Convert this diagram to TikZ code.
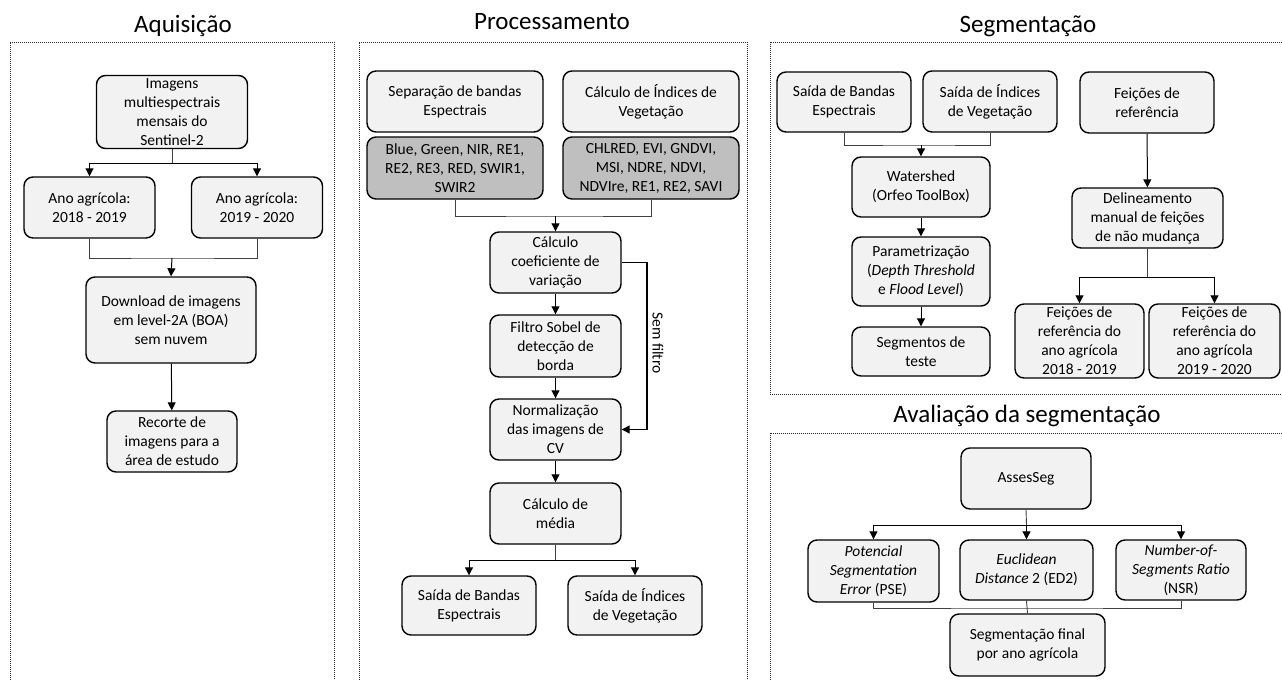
\documentclass[tikz,border=0pt]{standalone}
\usepackage{fontspec}
\setmainfont{Carlito}
\usetikzlibrary{arrows.meta}

\definecolor{boxgray}{HTML}{F2F2F2}
\definecolor{bandgray}{HTML}{BFBFBF}
\definecolor{linkgray}{HTML}{404040}

\tikzset{
  proc/.style={draw, rounded corners=9pt, line width=1.4pt, fill=boxgray,
    align=center, inner sep=1pt, font=\fontsize{15.5}{19}\selectfont},
  band/.style={proc, fill=bandgray},
  link/.style={draw=linkgray, line width=0.9pt},
  arr/.style={draw=black, line width=1pt, -{Triangle[width=8pt,length=8pt]}},
  panel/.style={draw=black!85, densely dotted, line width=1pt},
  paneltitle/.style={anchor=base, font=\fontsize{25}{29}\selectfont},
}

\begin{document}
\begin{tikzpicture}[x=1pt, y=-1pt]
  \useasboundingbox (0,0) rectangle (1282,680);

  % Panels
  \draw[panel] (10,680) -- (10,42) -- (334,42) -- (334,680);
  \draw[panel] (359,680) -- (359,42) -- (747,42) -- (747,680);
  \draw[panel] (1282,42) -- (770,42) -- (770,394) -- (1282,394);
  \draw[panel] (1282,433) -- (770,433) -- (770,680);

  \node[paneltitle] (tacq)  at (183,32)  {Aquisição};
  \node[paneltitle] (tproc) at (552,29)  {Processamento};
  \node[paneltitle] (tseg)  at (1028,32) {Segmentação};
  \node[paneltitle] (taval) at (1027,422) {Avaliação da segmentação};

  % Aquisicao
  \node[proc, minimum width=151, minimum height=73] (img) at (172,112)
    {Imagens\\multiespectrais\\mensais do\\Sentinel-2};
  \node[proc, minimum width=131, minimum height=61] (ano1) at (89.5,207.5)
    {Ano agrícola:\\2018 - 2019};
  \node[proc, minimum width=131, minimum height=61] (ano2) at (257,207.5)
    {Ano agrícola:\\2019 - 2020};
  \node[proc, minimum width=170, minimum height=86] (down) at (171,320)
    {Download de imagens\\em level-2A (BOA)\\sem nuvem};
  \node[proc, minimum width=130, minimum height=61] (rec) at (172,441.5)
    {Recorte de\\imagens para a\\área de estudo};

  \coordinate (s1) at (172,163);
  \coordinate (j1) at (172,258);
  \draw[link] (img.south) -- (s1);
  \draw[arr] (s1) -| (ano1.north);
  \draw[arr] (s1) -| (ano2.north);
  \draw[link] (ano1.south) |- (j1) -| (ano2.south);
  \draw[arr] (j1) -- (down.north);
  \draw[arr] (down) -- (rec);

  % Processamento
  \node[proc, minimum width=176, minimum height=61] (sep) at (455,101.5)
    {Separação de bandas\\Espectrais};
  \node[band, minimum width=176, minimum height=62] (bands) at (455,168)
    {Blue, Green, NIR, RE1,\\RE2, RE3, RED, SWIR1,\\SWIR2};
  \node[proc, minimum width=176, minimum height=61] (ind) at (651,101.5)
    {Cálculo de Índices de\\Vegetação};
  \node[band, minimum width=176, minimum height=62] (indl) at (651,168)
    {CHLRED, EVI, GNDVI,\\MSI, NDRE, NDVI,\\NDVIre, RE1, RE2, SAVI};
  \node[proc, minimum width=131, minimum height=61] (coef) at (555.5,262.5)
    {Cálculo\\coeficiente de\\variação};
  \node[proc, minimum width=131, minimum height=62] (sobel) at (555.5,346)
    {Filtro Sobel de\\detecção de\\borda};
  \node[proc, minimum width=131, minimum height=61] (norm) at (555.5,429.5)
    {Normalização\\das imagens de\\CV};
  \node[proc, minimum width=131, minimum height=61] (media) at (555.5,513.5)
    {Cálculo de\\média};
  \node[proc, minimum width=134, minimum height=59] (outb) at (469,605.5)
    {Saída de Bandas\\Espectrais};
  \node[proc, minimum width=134, minimum height=59] (outi) at (635,605.5)
    {Saída de Índices\\de Vegetação};

  \coordinate (j2) at (555.5,216);
  \coordinate (s2) at (555.5,560);
  \coordinate (sf) at (647,350);
  \draw[link] (bands.south) |- (j2) -| (indl.south);
  \draw[arr] (j2) -- (coef.north);
  \draw[arr] (coef) -- (sobel);
  \draw[arr] (sobel) -- (norm);
  \draw[arr] (norm) -- (media);
  \draw[link] (media.south) -- (s2);
  \draw[arr] (s2) -| (outb.north);
  \draw[arr] (s2) -| (outi.north);
  \draw[arr, line width=1.2pt] (coef.east) -| (sf) |- (norm.east);
  \node[rotate=-90, font=\fontsize{15.5}{19}\selectfont] (semf) at (658,343) {Sem filtro};

  % Segmentacao
  \node[proc, minimum width=134, minimum height=60] (segb) at (844,102)
    {Saída de Bandas\\Espectrais};
  \node[proc, minimum width=134, minimum height=61] (segi) at (990,101.5)
    {Saída de Índices\\de Vegetação};
  \node[proc, minimum width=138, minimum height=60] (water) at (921,187)
    {Watershed\\(Orfeo ToolBox)};
  \node[proc, minimum width=138, minimum height=69] (param) at (921,271.5)
    {Parametrização\\(\textit{Depth Threshold}\\e \textit{Flood Level})};
  \node[proc, minimum width=138, minimum height=49] (segt) at (921,351.5)
    {Segmentos de\\teste};
  \node[proc, minimum width=134, minimum height=61] (ref) at (1147,102.5)
    {Feições de\\referência};
  \node[proc, minimum width=151, minimum height=60] (delin) at (1147.5,218)
    {Delineamento\\manual de feições\\de não mudança};
  \node[proc, minimum width=129, minimum height=74] (ref1) at (1079.5,341)
    {Feições de\\referência do\\ano agrícola\\2018 - 2019};
  \node[proc, minimum width=131, minimum height=74] (ref2) at (1214.5,341)
    {Feições de\\referência do\\ano agrícola\\2019 - 2020};

  \coordinate (j3) at (921,145);
  \coordinate (s4) at (1147.5,277);
  \draw[link] (segb.south) |- (j3) -| (segi.south);
  \draw[arr] (j3) -- (water.north);
  \draw[arr] (water) -- (param);
  \draw[arr] (param) -- (segt);
  \draw[arr] (ref) -- (delin);
  \draw[link] (delin.south) -- (s4);
  \draw[arr] (s4) -| (ref1.north);
  \draw[arr] (s4) -| (ref2.north);

  % Avaliacao da segmentacao
  \node[proc, minimum width=130, minimum height=61] (asses) at (1026,478.5) {AssesSeg};
  \node[proc, minimum width=131, minimum height=62] (pse) at (873.5,571)
    {\textit{Potencial}\\\textit{Segmentation}\\\textit{Error} (PSE)};
  \node[proc, minimum width=133, minimum height=60] (ed2) at (1026.5,570)
    {\textit{Euclidean}\\\textit{Distance} 2 (ED2)};
  \node[proc, minimum width=130, minimum height=60] (nsr) at (1181,570)
    {\textit{Number-of-}\\\textit{Segments Ratio}\\(NSR)};
  \node[proc, minimum width=155, minimum height=62] (final) at (1027.5,645)
    {Segmentação final\\por ano agrícola};

  \coordinate (s5) at (1026.5,525);
  \coordinate (j5) at (1026.5,608);
  \draw[link] (asses.south) -- (s5);
  \draw[arr] (s5) -| (pse.north);
  \draw[arr] (s5) -- (ed2.north);
  \draw[arr] (s5) -| (nsr.north);
  \draw[link] (pse.south) |- (j5) -| (nsr.south);
  \draw[link] (ed2.south) -- (final.north);
\end{tikzpicture}
\end{document}
